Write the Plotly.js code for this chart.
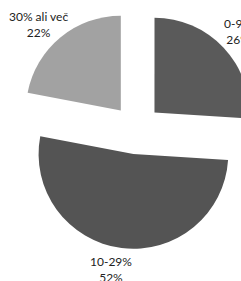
<!DOCTYPE html>
<html>
<head>
<meta charset="utf-8">
<script src="https://cdn.plot.ly/plotly-3.0.1.min.js"></script>
<style>
html,body{margin:0;padding:0;overflow:hidden;background:#fff;}
#chart{width:273px;height:281px;}
</style>
</head>
<body>
<div id="chart"></div>
<script>
var categories = ["0-9%", "10-29%", "30% ali več"];
var shares = [26, 52, 22];
var sliceColors = ["#5a5a5a", "#545454", "#a2a2a2"];

// label anchor positions (pixels in the page), layout only
var labelPx = [[238, 32], [110.5, 270], [38, 25]];

var W = 273, H = 281, mt = 10, mb = 31.6;
var plotH = H - mt - mb;

var trace = {
  type: "pie",
  labels: categories,
  values: shares,
  sort: false,
  direction: "clockwise",
  rotation: 0,
  pull: [0.26, 0.26, 0.26],
  marker: {colors: sliceColors, line: {width: 0}},
  textinfo: "none",
  hoverinfo: "none",
  showlegend: false,
  automargin: false
};

var annotations = categories.map(function (c, i) {
  return {
    xref: "paper", yref: "paper",
    x: labelPx[i][0] / W,
    y: 1 - (labelPx[i][1] - mt) / plotH,
    xanchor: "center", yanchor: "middle",
    text: c + "<br>" + shares[i] + "%",
    showarrow: false,
    align: "center",
    font: {family: "Lato, 'Open Sans', sans-serif", size: 12, color: "#222"}
  };
});

var layout = {
  width: W,
  height: H,
  margin: {l: 0, r: 0, t: mt, b: mb, pad: 0},
  paper_bgcolor: "#fff",
  showlegend: false,
  annotations: annotations
};

Plotly.newPlot("chart", [trace], layout, {displayModeBar: false, staticPlot: true});
</script>
</body>
</html>
